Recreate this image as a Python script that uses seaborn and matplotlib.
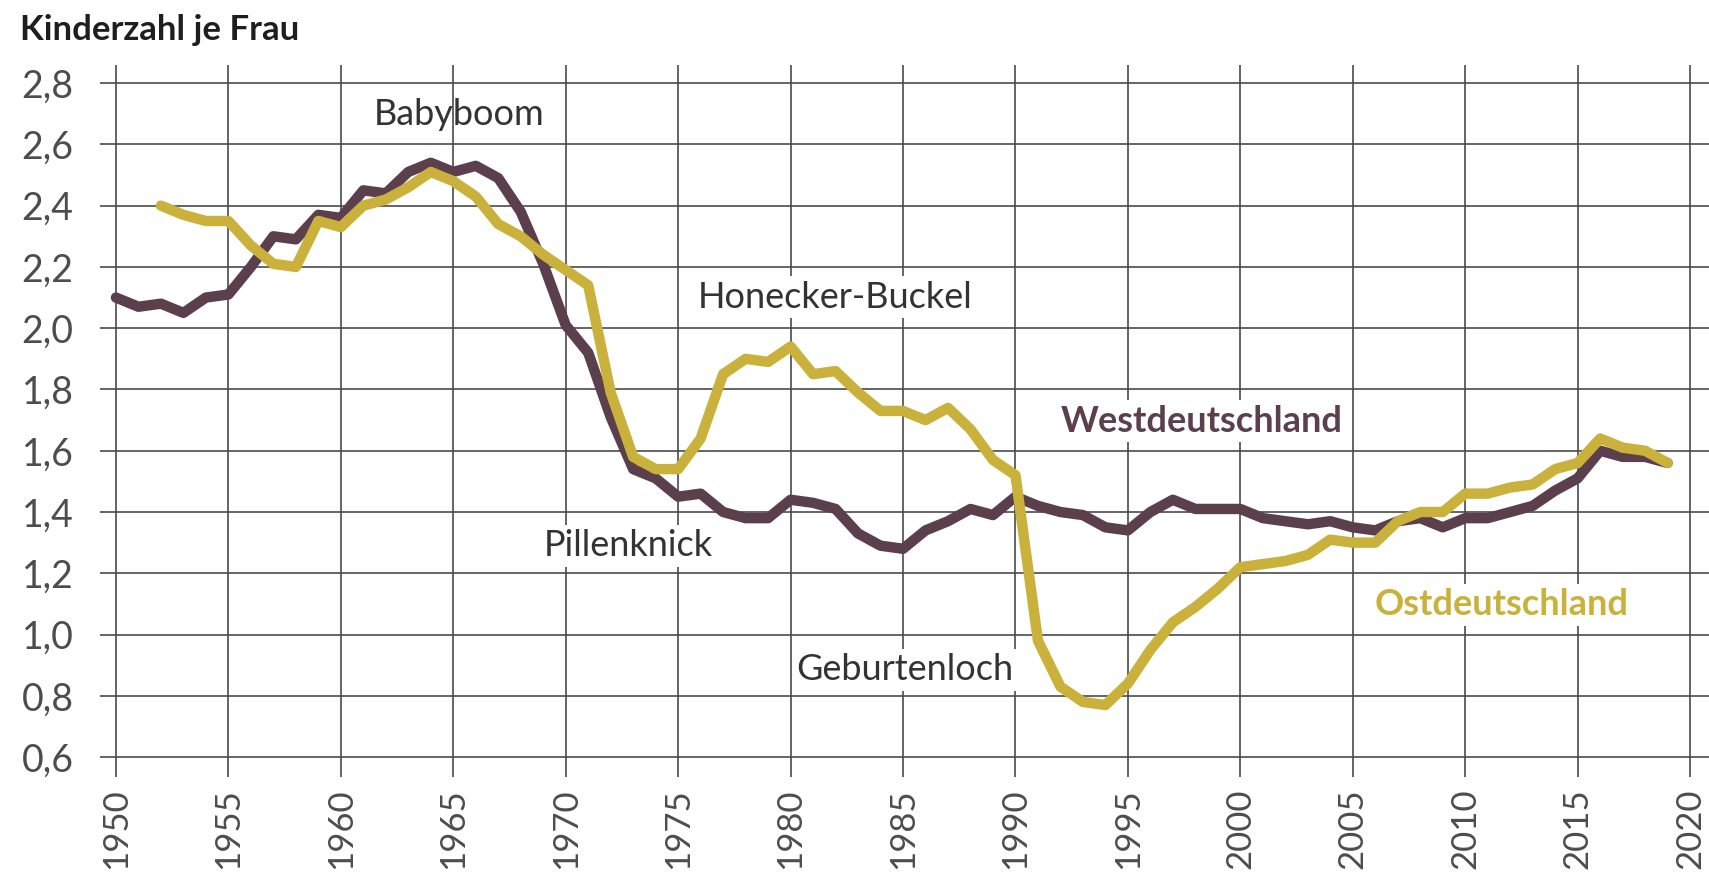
import matplotlib.pyplot as plt
import seaborn as sns
import numpy as np
import pandas as pd

# Zusammengefasste Geburtenziffer
years_west = list(range(1950, 2020))
west = [
    2.10, 2.07, 2.08, 2.05, 2.10, 2.11, 2.20, 2.30, 2.29, 2.37,
    2.36, 2.45, 2.44, 2.51, 2.54, 2.51, 2.53, 2.49, 2.38, 2.21,
    2.01, 1.92, 1.71, 1.54, 1.51, 1.45, 1.46, 1.40, 1.38, 1.38,
    1.44, 1.43, 1.41, 1.33, 1.29, 1.28, 1.34, 1.37, 1.41, 1.39,
    1.45, 1.42, 1.40, 1.39, 1.35, 1.34, 1.40, 1.44, 1.41, 1.41,
    1.41, 1.38, 1.37, 1.36, 1.37, 1.35, 1.34, 1.37, 1.38, 1.35,
    1.38, 1.38, 1.40, 1.42, 1.47, 1.51, 1.60, 1.58, 1.58, 1.56,
]
years_east = list(range(1952, 2020))
east = [
    2.40, 2.37, 2.35, 2.35, 2.27, 2.21, 2.20, 2.35,
    2.33, 2.40, 2.42, 2.46, 2.51, 2.48, 2.43, 2.34, 2.30, 2.24,
    2.19, 2.14, 1.79, 1.58, 1.54, 1.54, 1.64, 1.85, 1.90, 1.89,
    1.94, 1.85, 1.86, 1.79, 1.73, 1.73, 1.70, 1.74, 1.67, 1.57,
    1.52, 0.98, 0.83, 0.78, 0.77, 0.84, 0.95, 1.04, 1.09, 1.15,
    1.22, 1.23, 1.24, 1.26, 1.31, 1.30, 1.30, 1.37, 1.40, 1.40,
    1.46, 1.46, 1.48, 1.49, 1.54, 1.56, 1.64, 1.61, 1.60, 1.56,
]

y_ticks = [0.6, 0.8, 1.0, 1.2, 1.4, 1.6, 1.8, 2.0, 2.2, 2.4, 2.6, 2.8]
x_ticks = list(range(1950, 2021, 5))

purple = "#5b3f4d"
gold = "#c9b13b"

df = pd.concat([
    pd.DataFrame({"Jahr": years_west, "Kinder": west, "Region": "West"}),
    pd.DataFrame({"Jahr": years_east, "Kinder": east, "Region": "Ost"}),
])

sns.set_style("white")
plt.rcParams["font.family"] = ["Lato", "DejaVu Sans"]

fig = plt.figure(figsize=(17.09, 8.86), dpi=100)
ax = fig.add_axes([0.0585, 0.123, 0.9415, 0.8036])

sns.lineplot(data=df, x="Jahr", y="Kinder", hue="Region",
             palette={"West": purple, "Ost": gold}, hue_order=["West", "Ost"],
             linewidth=7.5, legend=False, ax=ax, zorder=3)

ax.set_xlim(1949.29, 2020.84)
ax.set_ylim(0.535, 2.859)
ax.set_xticks(x_ticks)
ax.set_yticks(y_ticks)
ax.set_yticklabels([f"{v:.1f}".replace(".", ",") for v in y_ticks])
ax.set_xticklabels([str(x) for x in x_ticks], rotation=90, va="top")
ax.tick_params(length=0, labelcolor="#4d4d4d")
ax.tick_params(axis="y", pad=19, labelsize=27)
ax.tick_params(axis="x", pad=8, labelsize=25)
ax.grid(True, color="#4a4a4a", linewidth=1.2)
ax.set_axisbelow(True)
for s in ax.spines.values():
    s.set_visible(False)
ax.set_xlabel("")
ax.set_ylabel("")

box = dict(facecolor="white", edgecolor="none", pad=3)
ax.text(1965.25, 2.663, "Babyboom", ha="center", va="baseline",
        fontsize=26, color="#333333", zorder=4)
ax.text(1982.0, 2.067, "Honecker-Buckel", ha="center", va="baseline",
        fontsize=26, color="#333333", bbox=box, zorder=4)
ax.text(1972.77, 1.255, "Pillenknick", ha="center", va="baseline",
        fontsize=26, color="#333333", bbox=box, zorder=4)
ax.text(1985.09, 0.851, "Geburtenloch", ha="center", va="baseline",
        fontsize=26, color="#333333", bbox=box, zorder=4)
ax.text(1998.3, 1.662, "Westdeutschland", ha="center", va="baseline",
        fontsize=26, fontweight="bold", color=purple, bbox=box, zorder=4)
ax.text(2011.6, 1.063, "Ostdeutschland", ha="center", va="baseline",
        fontsize=26, fontweight="bold", color=gold, bbox=box, zorder=4)

fig.text(0.0117, 1 - 40 / 886, "Kinderzahl je Frau", ha="left", va="baseline",
         fontsize=25, fontweight="bold", color="#1e1e1e")

fig.savefig("out.png", dpi=100, facecolor="white")
